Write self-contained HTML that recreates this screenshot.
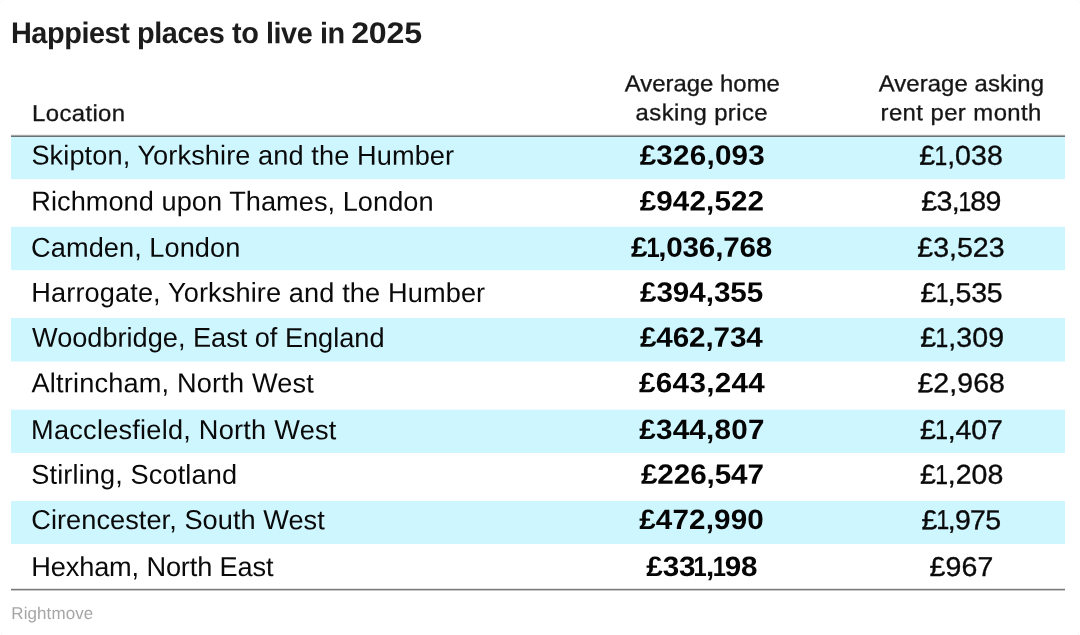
<!DOCTYPE html>
<html lang="en">
<head>
<meta charset="utf-8">
<title>Happiest places to live in 2025</title>
<style>
html,body{margin:0;padding:0;background:#fff;}
body{width:1080px;height:635px;position:relative;overflow:hidden;font-family:"Liberation Sans",sans-serif;}
.t{display:block;position:absolute;left:0;top:0;white-space:nowrap;line-height:1;margin:0;padding:0;border:0;transform-origin:0 0;font-weight:400;text-align:left;}
.r{position:absolute;left:11px;width:1054px;background:#cef6ff;}
.l{position:absolute;left:11px;width:1054px;height:1px;}
.c{position:absolute;width:1px;height:1px;}
h1,table,thead,tbody,tr,th{display:contents;}
.g{font-size:29.8px;color:#1c1c1c;font-weight:700;}
.h{font-size:23px;color:#161616;-webkit-text-stroke:0.3px #161616;}
.b{font-size:27.2px;color:#0a0a0a;}
.n{font-size:27.2px;color:#0a0a0a;-webkit-text-stroke:0.35px #0a0a0a;}
.p{font-size:28px;color:#050505;font-weight:700;}
.f{font-size:17px;color:#a6a6a6;}
.o{display:inline-block;transform:scaleX(0.8);margin:0 -1.9px;}
.p .o{margin:0 -2.6px;}
</style>
</head>
<body>
<div class="r" style="top:137px;height:42px"></div>
<div class="r" style="top:227px;height:43px"></div>
<div class="r" style="top:318px;height:43px"></div>
<div class="r" style="top:410px;height:43px"></div>
<div class="r" style="top:501px;height:43px"></div>
<div class="l" style="top:179px;background:#f6fdff"></div>
<div class="l" style="top:270px;background:#f8feff"></div>
<div class="l" style="top:226px;background:#f5fdff"></div>
<div class="l" style="top:361px;background:#e6faff"></div>
<div class="l" style="top:409px;background:#f0fcff"></div>
<div class="l" style="top:134px;background:#eeeeee"></div>
<div class="l" style="top:135px;background:#a6a6a6"></div>
<div class="l" style="top:136px;background:#6a7274"></div>
<div class="l" style="top:588px;background:#e4e4e4"></div>
<div class="l" style="top:589px;background:#7a7a7a"></div>
<div class="l" style="top:590px;background:#c8c8c8"></div>
<i class="c" style="left:2px;top:0px;background:#f3f3f3"></i><i class="c" style="left:0px;top:2px;background:#f3f3f3"></i><i class="c" style="left:1077px;top:0px;background:#f3f3f3"></i><i class="c" style="left:1079px;top:2px;background:#f3f3f3"></i><i class="c" style="left:0px;top:632px;background:#f8f8f8"></i><i class="c" style="left:1px;top:634px;background:#f6f6f6"></i><i class="c" style="left:1079px;top:632px;background:#f8f8f8"></i><i class="c" style="left:1078px;top:634px;background:#f6f6f6"></i>
<h1><span class="t g" style="transform:matrix(0.97,0.0005,0.0009,1,10.878,18);letter-spacing:-0.455px">Happiest places to live in</span> <span class="t g" style="transform:matrix(1.08,0.0005,0.0009,1,351.199,18);letter-spacing:-0.231px">2025</span></h1>
<table>
<thead>
<tr>
<th><span class="t h" style="transform:matrix(1.04,0.0005,0.0009,1,32.07,102);letter-spacing:0.35px">Location</span></th>
<th><span class="t h" style="transform:matrix(1.04,0.0005,0.0009,1,624.627,72.25);letter-spacing:0.011px">Average home</span> <span class="t h" style="transform:matrix(1.04,0.0005,0.0009,1,635.593,101.25);letter-spacing:0.38px">asking price</span></th>
<th><span class="t h" style="transform:matrix(1.04,0.0005,0.0009,1,878.627,72.25);letter-spacing:0.068px">Average asking</span> <span class="t h" style="transform:matrix(1.04,0.0005,0.0009,1,880.515,101.25);letter-spacing:0.394px">rent per month</span></th>
</tr>
</thead>
<tbody>
<tr><td class="t b" style="transform:matrix(1,0.0005,0.0009,1,31.355,141.5);letter-spacing:0.081px">Skipton, Yorkshire and the Humber</td><td class="t p" style="transform:matrix(1.06,0.0005,0.0009,1,639.636,141.75);letter-spacing:0.184px">£326,093</td><td class="t n" style="transform:matrix(1.05,0.0005,0.0009,1,919.286,141.75);letter-spacing:0.019px">£<span class="o">1</span>,038</td></tr>
<tr><td class="t b" style="transform:matrix(1,0.0005,0.0009,1,31.254,187.5);letter-spacing:0.029px">Richmond upon Thames, London</td><td class="t p" style="transform:matrix(1.06,0.0005,0.0009,1,639.637,187.5);letter-spacing:0.091px">£942,522</td><td class="t n" style="transform:matrix(1.05,0.0005,0.0009,1,921.284,187.5);letter-spacing:-0.631px">£3,<span class="o">1</span>89</td></tr>
<tr><td class="t b" style="transform:matrix(1,0.0005,0.0009,1,31.1,233.75);letter-spacing:0.047px">Camden, London</td><td class="t p" style="transform:matrix(1.06,0.0005,0.0009,1,630.965,233.75);letter-spacing:-0.18px">£<span class="o">1</span>,036,768</td><td class="t n" style="transform:matrix(1.05,0.0005,0.0009,1,917.343,233.75);letter-spacing:-0.032px">£3,523</td></tr>
<tr><td class="t b" style="transform:matrix(1,0.0005,0.0009,1,31.254,278.75);letter-spacing:0.104px">Harrogate, Yorkshire and the Humber</td><td class="t p" style="transform:matrix(1.06,0.0005,0.0009,1,639.957,278.75);letter-spacing:-0.067px">£394,355</td><td class="t n" style="transform:matrix(1.05,0.0005,0.0009,1,920.399,279);letter-spacing:-0.21px">£<span class="o">1</span>,535</td></tr>
<tr><td class="t b" style="transform:matrix(1,0.0005,0.0009,1,31.999,323.75);letter-spacing:-0.025px">Woodbridge, East of England</td><td class="t p" style="transform:matrix(1.06,0.0005,0.0009,1,639.965,323.75);letter-spacing:-0.121px">£462,734</td><td class="t n" style="transform:matrix(1.05,0.0005,0.0009,1,920.343,323.75);letter-spacing:0.069px">£<span class="o">1</span>,309</td></tr>
<tr><td class="t b" style="transform:matrix(1,0.0005,0.0009,1,31.511,369.25);letter-spacing:0.158px">Altrincham, North West</td><td class="t p" style="transform:matrix(1.06,0.0005,0.0009,1,638.968,369.25);letter-spacing:0.276px">£643,244</td><td class="t n" style="transform:matrix(1.05,0.0005,0.0009,1,917.399,369.25);letter-spacing:0.051px">£2,968</td></tr>
<tr><td class="t b" style="transform:matrix(1,0.0005,0.0009,1,31.053,416);letter-spacing:0.222px">Macclesfield, North West</td><td class="t p" style="transform:matrix(1.06,0.0005,0.0009,1,639.209,416);letter-spacing:0.187px">£344,807</td><td class="t n" style="transform:matrix(1.05,0.0005,0.0009,1,920.059,416);letter-spacing:-0.106px">£<span class="o">1</span>,407</td></tr>
<tr><td class="t b" style="transform:matrix(1,0.0005,0.0009,1,31.317,460.75);letter-spacing:0.1px">Stirling, Scotland</td><td class="t p" style="transform:matrix(1.06,0.0005,0.0009,1,640.957,460.75);letter-spacing:-0.105px">£226,547</td><td class="t n" style="transform:matrix(1.05,0.0005,0.0009,1,920.033,460.75);letter-spacing:-0.017px">£<span class="o">1</span>,208</td></tr>
<tr><td class="t b" style="transform:matrix(1,0.0005,0.0009,1,31.221,506);letter-spacing:0.041px">Cirencester, South West</td><td class="t p" style="transform:matrix(1.06,0.0005,0.0009,1,639.209,506);letter-spacing:0.109px">£472,990</td><td class="t n" style="transform:matrix(1.05,0.0005,0.0009,1,921.416,506.25);letter-spacing:-0.703px">£<span class="o">1</span>,975</td></tr>
<tr><td class="t b" style="transform:matrix(1,0.0005,0.0009,1,31.254,553);letter-spacing:-0.152px">Hexham, North East</td><td class="t p" style="transform:matrix(1.06,0.0005,0.0009,1,646.343,553);letter-spacing:-0.225px">£33<span class="o">1</span>,<span class="o">1</span>98</td><td class="t n" style="transform:matrix(1.05,0.0005,0.0009,1,929.42,553);letter-spacing:0.152px">£967</td></tr>
</tbody>
</table>
<p class="t f" style="transform:matrix(1,0.0005,0.0009,1,11.255,605);letter-spacing:0.098px">Rightmove</p>
</body>
</html>
